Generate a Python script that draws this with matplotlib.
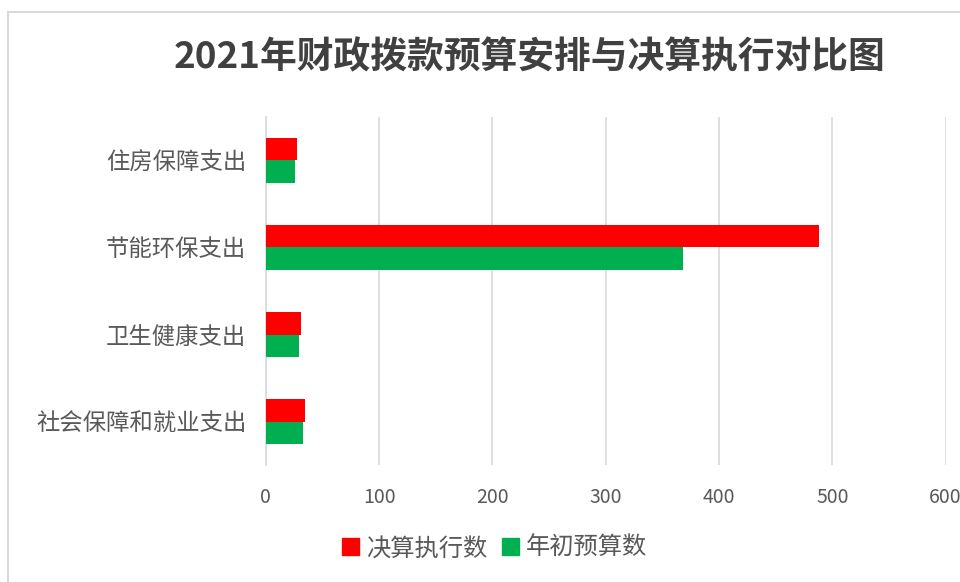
import matplotlib.pyplot as plt
from matplotlib.patches import Patch, Rectangle

plt.rcParams['font.family'] = ['Noto Sans CJK SC', 'DejaVu Sans']

# 数据
categories = ["住房保障支出", "节能环保支出", "卫生健康支出", "社会保障和就业支出"]
final_vals = [27.5, 488, 30.8, 34.6]    # 决算执行数
budget_vals = [25.8, 368, 29.2, 32.9]   # 年初预算数
xticks = [0, 100, 200, 300, 400, 500, 600]

red = "#FF0000"
green = "#00B050"
grid_c = "#D9D9D9"
text_c = "#595959"

fig = plt.figure(figsize=(9.6, 5.82), dpi=100)
ax = fig.add_axes([0.277, 0.201, 0.708, 0.598])

h = 0.256
pos = list(range(len(categories)))
ax.barh([p - h / 2 for p in pos], final_vals, height=h, color=red, zorder=3)
ax.barh([p + h / 2 for p in pos], budget_vals, height=h, color=green, zorder=3)

ax.set_ylim(3.5, -0.5)
ax.set_xlim(0, 600)
ax.set_xticks(xticks)
ax.set_yticks(pos)
ax.set_yticklabels(categories, fontsize=16.8, color=text_c)
ax.tick_params(axis='x', labelsize=14, colors=text_c, length=0, pad=16)
ax.tick_params(axis='y', length=0, pad=14)
ax.grid(axis='x', color=grid_c, linewidth=1.2, zorder=0)
for s in ["top", "right", "bottom"]:
    ax.spines[s].set_visible(False)
ax.spines["left"].set_color(grid_c)
ax.spines["left"].set_linewidth(1.2)

# 标题
fig.text(0.552, 0.900, "2021年财政拨款预算安排与决算执行对比图", ha='center', va='center',
         fontsize=26.5, fontweight='bold', color="#404040")

# 图例
handles = [Patch(color=red, label="决算执行数"), Patch(color=green, label="年初预算数")]
leg = fig.legend(handles=handles, loc='center', bbox_to_anchor=(0.515, 0.058), ncol=2,
                 frameon=False, fontsize=17.5, handlelength=0.7, handleheight=0.7,
                 handletextpad=0.3, columnspacing=0.6)
for t in leg.get_texts():
    t.set_color(text_c)

# 外框
fig.add_artist(Rectangle((0.008, -0.1), 1.2, 1.079, transform=fig.transFigure,
                         fill=False, edgecolor=grid_c, linewidth=1.5))

fig.savefig("out.png", dpi=100)
